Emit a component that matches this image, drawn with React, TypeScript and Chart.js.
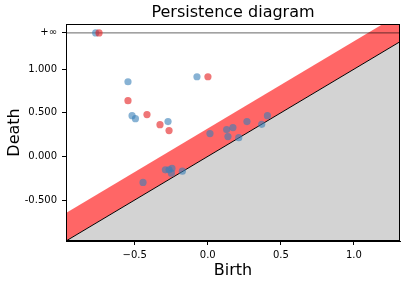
import { useEffect, useRef } from "react";
import { Chart, registerables } from "chart.js";

Chart.register(...registerables);

// axis limits and special values
const AXIS_START = -0.97;
const AXIS_END = 1.315;
const Y_MAX = 1.518;
const INF = 1.416;
const BAND = 0.32;

// dimension 1 (blue) points
const blueBirth = [-0.546, -0.074, -0.518, -0.495, -0.272, 0.015, 0.129, 0.172, 0.138, 0.212, 0.268, 0.369, 0.408, -0.443, -0.29, -0.265, -0.245, -0.249, -0.174];
const blueDeath = [0.856, 0.913, 0.467, 0.433, 0.399, 0.262, 0.307, 0.33, 0.227, 0.215, 0.399, 0.368, 0.467, -0.298, -0.154, -0.154, -0.138, -0.192, -0.169];
const blueInfBirth = [-0.767];

// dimension 0 (red) points
const redBirth = [0.001, -0.546, -0.416, -0.327, -0.265];
const redDeath = [0.913, 0.639, 0.479, 0.364, 0.296];
const redInfBirth = [-0.744];

const xTicks = [-0.5, 0.0, 0.5, 1.0];
const yTicks = [-0.5, 0.0, 0.5, 1.0];

const FONT = "'DejaVu Sans', sans-serif";

export default function App() {
  const ref = useRef<HTMLCanvasElement | null>(null);

  useEffect(() => {
    document.body.style.margin = "0";
    const canvas = ref.current;
    if (!canvas) return;

    const bluePts = blueBirth.map((b, i) => ({ x: b, y: blueDeath[i] })).concat(blueInfBirth.map((b) => ({ x: b, y: INF })));
    const redPts = redBirth.map((b, i) => ({ x: b, y: redDeath[i] })).concat(redInfBirth.map((b) => ({ x: b, y: INF })));

    const framePlugin = {
      id: "frame",
      afterDatasetsDraw(chart: any) {
        const { ctx, chartArea } = chart;
        ctx.save();
        ctx.strokeStyle = "#000";
        ctx.lineWidth = 1;
        const l = Math.round(chartArea.left) + 0.5;
        const t = Math.round(chartArea.top) + 0.5;
        const r = Math.round(chartArea.right) - 0.5;
        const b = Math.round(chartArea.bottom) - 0.5;
        ctx.strokeRect(l, t, r - l, b - t);
        ctx.restore();
      },
    };

    const chart = new Chart(canvas, {
      type: "line",
      data: {
        datasets: [
          {
            label: "band",
            data: [
              { x: AXIS_START, y: AXIS_START + BAND },
              { x: AXIS_END, y: AXIS_END + BAND },
            ],
            borderWidth: 0,
            borderColor: "rgba(0,0,0,0)",
            backgroundColor: "rgba(255,0,0,0.6)",
            fill: "+1",
            pointRadius: 0,
            order: 5,
          },
          {
            label: "diag",
            data: [
              { x: AXIS_START, y: AXIS_START },
              { x: AXIS_END, y: AXIS_END },
            ],
            borderWidth: 1,
            borderColor: "#000",
            backgroundColor: "#d3d3d3",
            fill: "start",
            pointRadius: 0,
            order: 4,
          },
          {
            label: "inf",
            data: [
              { x: AXIS_START, y: INF },
              { x: AXIS_END, y: INF },
            ],
            borderWidth: 1,
            borderColor: "rgba(0,0,0,0.6)",
            fill: false,
            pointRadius: 0,
            order: 3,
          },
          {
            label: "dim1",
            data: bluePts,
            showLine: false,
            pointRadius: 3.6,
            pointBorderWidth: 0,
            pointBackgroundColor: "rgba(55,126,184,0.6)",
            pointBorderColor: "rgba(0,0,0,0)",
            order: 2,
          },
          {
            label: "dim0",
            data: redPts,
            showLine: false,
            pointRadius: 3.6,
            pointBorderWidth: 0,
            pointBackgroundColor: "rgba(228,26,28,0.6)",
            pointBorderColor: "rgba(0,0,0,0)",
            order: 1,
          },
        ],
      },
      options: {
        responsive: false,
        animation: false,
        devicePixelRatio: 1,
        layout: { padding: { left: 0, right: 7, top: 0, bottom: 0 } },
        plugins: {
          legend: { display: false },
          tooltip: { enabled: false },
          title: {
            display: true,
            text: "Persistence diagram",
            fullSize: false,
            color: "#000",
            font: { family: FONT, size: 16, weight: "normal" },
            padding: { top: 3, bottom: 1.8 },
          },
        },
        scales: {
          x: {
            type: "linear",
            min: AXIS_START,
            max: AXIS_END,
            afterBuildTicks: (s: any) => {
              s.ticks = xTicks.map((v) => ({ value: v }));
            },
            afterFit: (s: any) => {
              s.height = 44;
            },
            ticks: {
              autoSkip: false,
              maxRotation: 0,
              color: "#000",
              padding: 4,
              font: { family: FONT, size: 10 },
              callback: (v: any) => {
                const n = Number(v);
                return n < 0 ? "\u2212" + Math.abs(n).toFixed(1) : n.toFixed(1);
              },
            },
            grid: { drawOnChartArea: false, drawTicks: true, tickLength: 4, color: "#000" },
            border: { display: true, color: "#000", width: 1 },
            title: {
              display: true,
              text: "Birth",
              color: "#000",
              font: { family: FONT, size: 16 },
              padding: { top: 0, bottom: 5 },
            },
          },
          y: {
            type: "linear",
            min: AXIS_START,
            max: Y_MAX,
            afterBuildTicks: (s: any) => {
              s.ticks = yTicks.concat([INF]).map((v) => ({ value: v }));
            },
            afterFit: (s: any) => {
              s.width = 66;
            },
            ticks: {
              autoSkip: false,
              color: "#000",
              padding: 5,
              font: { family: FONT, size: 10 },
              callback: (v: any) => {
                const n = Number(v);
                if (Math.abs(n - INF) < 1e-9) return "+\u221e";
                return n.toFixed(3);
              },
            },
            grid: { drawOnChartArea: false, drawTicks: true, tickLength: 4, color: "#000" },
            border: { display: true, color: "#000", width: 1 },
            title: {
              display: true,
              text: "Death",
              color: "#000",
              font: { family: FONT, size: 16 },
              padding: { top: 5.4, bottom: 0 },
            },
          },
        },
      },
      plugins: [framePlugin],
    } as any);

    return () => chart.destroy();
  }, []);

  return (
    <div style={{ width: 407, height: 285 }}>
      <canvas ref={ref} width={407} height={285} style={{ display: "block" }} />
    </div>
  );
}
